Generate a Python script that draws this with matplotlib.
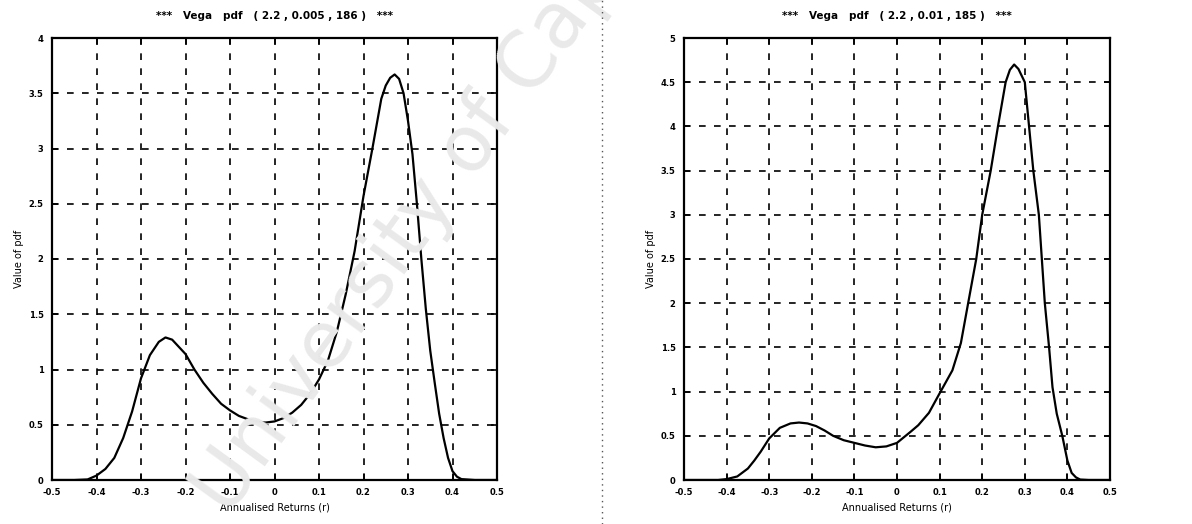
import numpy as np
import matplotlib
matplotlib.use("Agg")
import matplotlib.pyplot as plt
from matplotlib.lines import Line2D

# ---- data ----
x_ticks = [-0.5, -0.4, -0.3, -0.2, -0.1, 0, 0.1, 0.2, 0.3, 0.4, 0.5]
x_labels = ["-0.5", "-0.4", "-0.3", "-0.2", "-0.1", "0", "0.1", "0.2", "0.3", "0.4", "0.5"]

left_y_ticks = [0, 0.5, 1, 1.5, 2, 2.5, 3, 3.5, 4]
left_y_labels = ["0", "0.5", "1", "1.5", "2", "2.5", "3", "3.5", "4"]
right_y_ticks = [0, 0.5, 1, 1.5, 2, 2.5, 3, 3.5, 4, 4.5, 5]
right_y_labels = ["0", "0.5", "1", "1.5", "2", "2.5", "3", "3.5", "4", "4.5", "5"]

left_title = "***   Vega   pdf   ( 2.2 , 0.005 , 186 )   ***"
right_title = "***   Vega   pdf   ( 2.2 , 0.01 , 185 )   ***"
x_name = "Annualised Returns (r)"
y_name = "Value of pdf"

left_x = [-0.5, -0.45, -0.42, -0.40, -0.38, -0.36, -0.34, -0.32, -0.30, -0.28,
          -0.26, -0.245, -0.23, -0.20, -0.18, -0.16, -0.14, -0.12, -0.10, -0.08,
          -0.06, -0.04, -0.02, 0.0, 0.02, 0.04, 0.06, 0.08, 0.10, 0.12,
          0.14, 0.16, 0.18, 0.20, 0.22, 0.24, 0.25, 0.26, 0.27, 0.28,
          0.29, 0.30, 0.31, 0.32, 0.33, 0.34, 0.35, 0.36, 0.37, 0.38,
          0.39, 0.40, 0.41, 0.42, 0.45, 0.5]
left_y = [0.0, 0.0, 0.005, 0.04, 0.10, 0.20, 0.38, 0.62, 0.92, 1.13,
          1.25, 1.29, 1.27, 1.14, 1.00, 0.88, 0.78, 0.69, 0.63, 0.58,
          0.55, 0.53, 0.52, 0.53, 0.56, 0.61, 0.68, 0.78, 0.91, 1.08,
          1.34, 1.68, 2.07, 2.57, 3.0, 3.45, 3.57, 3.64, 3.67, 3.63,
          3.5, 3.25, 2.95, 2.5, 2.0, 1.55, 1.17, 0.88, 0.6, 0.38,
          0.2, 0.08, 0.03, 0.008, 0.0, 0.0]

right_x = [-0.5, -0.45, -0.42, -0.40, -0.375, -0.35, -0.335, -0.32, -0.30, -0.275,
           -0.25, -0.23, -0.21, -0.19, -0.17, -0.15, -0.125, -0.10, -0.075, -0.05,
           -0.025, 0.0, 0.033, 0.05, 0.075, 0.10, 0.13, 0.15, 0.167, 0.186,
           0.20, 0.22, 0.237, 0.255, 0.265, 0.275, 0.285, 0.30, 0.31, 0.32,
           0.333, 0.34, 0.347, 0.357, 0.365, 0.375, 0.388, 0.40, 0.41, 0.42,
           0.43, 0.45, 0.5]
right_y = [0.0, 0.0, 0.0, 0.01, 0.04, 0.13, 0.22, 0.32, 0.47, 0.59,
           0.64, 0.65, 0.64, 0.61, 0.56, 0.50, 0.45, 0.42, 0.39, 0.37,
           0.38, 0.42, 0.55, 0.62, 0.76, 0.98, 1.24, 1.55, 2.0, 2.5,
           3.0, 3.5, 4.0, 4.5, 4.64, 4.7, 4.65, 4.5, 4.0, 3.5,
           3.0, 2.5, 2.0, 1.5, 1.05, 0.75, 0.5, 0.22, 0.08, 0.03,
           0.005, 0.0, 0.0]


def style_axes(ax, yticks, ylabels, ymax, title):
    ax.set_facecolor("none")
    ax.set_xlim(-0.5, 0.5)
    ax.set_ylim(0, ymax)
    ax.set_xticks(x_ticks)
    ax.set_xticklabels(x_labels)
    ax.set_yticks(yticks)
    ax.set_yticklabels(ylabels)
    ax.tick_params(direction="in", length=4, width=1.2, labelsize=6,
                   top=True, right=True, pad=6)
    for lab in ax.get_xticklabels() + ax.get_yticklabels():
        lab.set_fontweight("bold")
    ax.grid(True, color="black", linestyle=(0, (4, 5)), linewidth=1.2)
    for s in ax.spines.values():
        s.set_linewidth(1.6)
        s.set_color("black")
    ax.set_title(title, fontsize=7.5, fontweight="bold", pad=14)
    ax.set_xlabel(x_name, fontsize=7, labelpad=4)
    ax.set_ylabel(y_name, fontsize=7, labelpad=3)


fig = plt.figure(figsize=(11.92, 5.24), dpi=100)

# watermark behind everything
fig.text(210 / 1192, 1 - 505 / 524, "University of Cape Town", fontsize=56,
         color="#e9e9e9", rotation=54, rotation_mode="anchor",
         ha="left", va="center", zorder=0)

ax1 = fig.add_axes([52 / 1192, 44 / 524, 445 / 1192, 442 / 524])
ax1.plot(left_x, left_y, color="black", linewidth=1.6)
style_axes(ax1, left_y_ticks, left_y_labels, 4, left_title)

ax2 = fig.add_axes([684 / 1192, 44 / 524, 426 / 1192, 442 / 524])
ax2.plot(right_x, right_y, color="black", linewidth=1.6)
style_axes(ax2, right_y_ticks, right_y_labels, 5, right_title)

# dotted page separator
fig.add_artist(Line2D([602 / 1192, 602 / 1192], [0, 1], transform=fig.transFigure,
                      color="#555555", linestyle=(0, (1, 3)), linewidth=1))

fig.savefig("out.png", dpi=100)
